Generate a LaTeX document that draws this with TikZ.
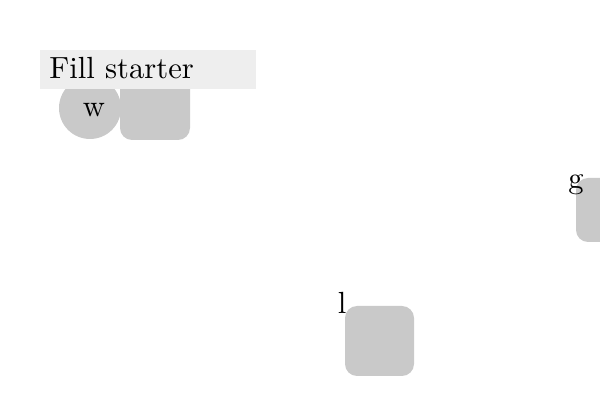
\documentclass[tikz,border=0pt]{standalone}
\begin{document}
\begin{tikzpicture}[x=0.5pt,y=-0.5pt,
  shapebox/.style={fill=gray!42, draw=none, rounded corners=6pt},
  txt/.style={inner sep=0pt},
  fillbar/.style={fill=gray!13, draw=none, minimum width=108pt, minimum height=19.5pt, inner sep=0pt}]
\newcommand{\bigtxt}[1]{\scalebox{1.53}{#1}}
\useasboundingbox (0,0) rectangle (600,400);
\node[circle, fill=gray!42, minimum size=31pt, inner sep=0pt] (w) at (90,108) {};
\node[txt, anchor=base] (wl) at (94,117) {\bigtxt{w}};
\fill[shapebox] (120,70) rectangle (190,140);
\coordinate (sq1) at (155,105);
\fill[shapebox] (576,178) rectangle (646,242);
\coordinate (sqg) at (611,210);
\node[txt, anchor=base] (g) at (576,189) {\bigtxt{g}};
\fill[shapebox] (345,306) rectangle (414,376);
\coordinate (sql) at (380,341);
\node[txt, anchor=base] (l) at (342,314) {\bigtxt{l}};
\node[fillbar] (bar) at (148,69.5) {};
\node[txt, anchor=base west] (lab) at (49,79) {\bigtxt{Fill starter}};
\end{tikzpicture}
\end{document}
